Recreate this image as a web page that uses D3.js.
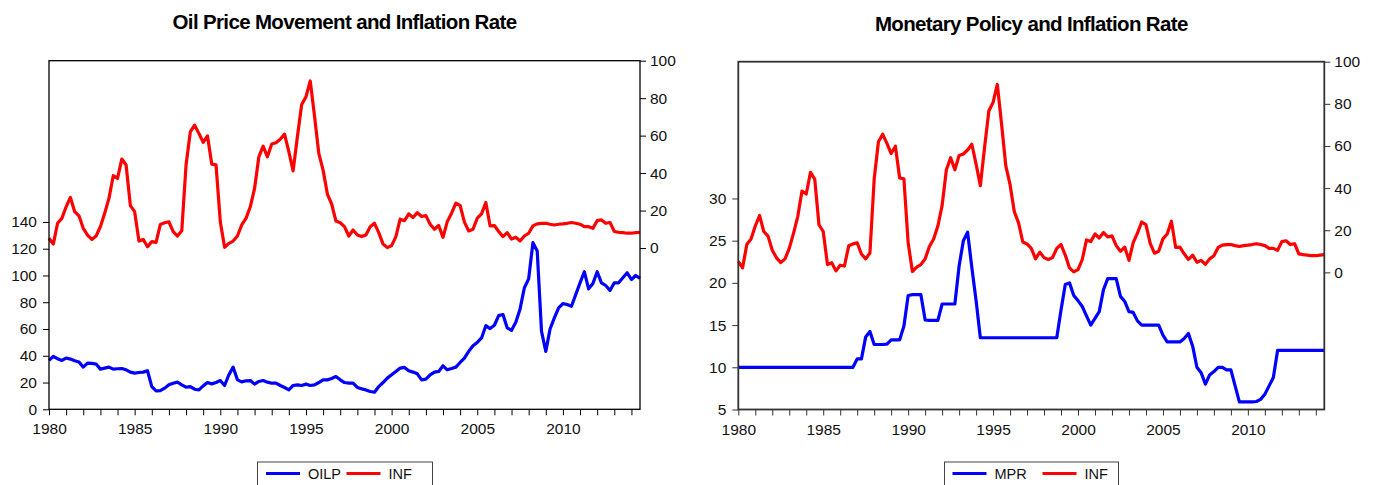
<!DOCTYPE html>
<html lang="en">
<head>
<meta charset="UTF-8">
<title>Oil price, monetary policy and inflation</title>
<script src="https://d3js.org/d3.v7.min.js"></script>
<style>
  body { margin: 0; background: #fff; }
  svg { display: block; font-family: Arial, "Liberation Sans", sans-serif; }
</style>
</head>
<body>
<script>
// quarterly, 1980Q1 .. 2014Q3
const quarters = d3.range(139).map(i => 1980 + i / 4);

const oilp = [
  36.5, 39.5, 37.8, 36.5, 38.3, 37.5, 36.3, 35.3, 31.5, 34.5,
  34.3, 33.8, 30, 30.8, 31.5, 30, 30.3, 30.5, 29.5, 27.8,
  27, 27.5, 27.8, 28.8, 17, 13.8, 14, 15.8, 18.3, 19.5,
  20.3, 18.3, 16.5, 17, 15, 14.5, 17.5, 20, 19, 20,
  21.5, 17.8, 25.8, 31.5, 22, 20.5, 21.3, 21.5, 18.8, 20.8,
  21.5, 20.3, 19.5, 19.5, 17.8, 16.3, 14.5, 17.8, 18.3, 17.8,
  18.8, 17.8, 18.3, 20, 22, 22, 23, 24.5, 22, 20,
  19.5, 19.5, 16.3, 15.3, 14.5, 13.3, 12.8, 17, 20, 23.3,
  25.8, 28.3, 30.8, 31.3, 28.8, 27.8, 26.5, 22, 22.5, 25.8,
  27.8, 28.3, 32.5, 29.5, 30.5, 31.5, 35, 38.3, 43.3, 47.5,
  50, 53.3, 62.5, 60.3, 62.8, 70, 70.8, 60.8, 59, 65,
  75, 90.8, 97.5, 124.5, 118.3, 58.3, 43.3, 60, 68.3, 75.8,
  79, 78.3, 77, 85.8, 94.5, 102.8, 90, 94, 102.8, 94.5,
  92.5, 88.8, 94.5, 94.5, 98.3, 102, 97, 100, 97.8
];

const inf = [
  5.2, 2.1, 13.2, 15.8, 22, 27, 19.4, 17.2, 10.5, 6.9,
  4.6, 6.4, 11.4, 18.5, 26.5, 38.6, 37.2, 47.5, 44.3, 22.6,
  19.4, 3.7, 4.6, 0.7, 3.4, 3, 12.6, 13.5, 14, 8.7,
  6.4, 9.2, 44.3, 62, 65.6, 61.2, 56.4, 59.9, 44.8, 44.4,
  14, 0.4, 2.5, 3.7, 6.4, 12.3, 15.8, 22, 31.8, 48.7,
  54.4, 48.7, 55.5, 56.2, 58.1, 60.8, 51.4, 41.2, 59.4, 76.6,
  80.7, 89.2, 70.4, 50.5, 41.6, 28.8, 23.5, 14.4, 13.5, 11.4,
  6.4, 9.6, 7, 6.1, 7, 11.4, 13.2, 8.2, 2.1, 0.2,
  1.3, 6.1, 15.4, 14.6, 18.2, 16.3, 18.9, 16.8, 17.3, 12.7,
  10, 12, 5.7, 14.1, 18.6, 23.9, 22.7, 13.8, 9.1, 10,
  15.9, 18.2, 24.3, 11.8, 12, 8.8, 6.1, 8.2, 4.8, 5.7,
  3.8, 6.4, 7.9, 11.8, 12.9, 13.2, 13.2, 12.7, 12.3, 12.7,
  12.9, 13.2, 13.6, 13.2, 12.7, 11.4, 11.4, 10.5, 14.6, 15,
  13.2, 13.6, 8.8, 8.4, 8.2, 7.9, 7.9, 8.2, 8.4
];

const mpr = [
  10, 10, 10, 10, 10, 10, 10, 10, 10, 10,
  10, 10, 10, 10, 10, 10, 10, 10, 10, 10,
  10, 10, 10, 10, 10, 10, 10, 10, 11, 11,
  13.6, 14.25, 12.7, 12.7, 12.7, 12.75, 13.25, 13.25, 13.25, 14.9,
  18.5, 18.6, 18.6, 18.6, 15.6, 15.55, 15.55, 15.55, 17.5, 17.5,
  17.5, 17.5, 22, 25, 26, 21.8, 17.9, 13.5, 13.5, 13.5,
  13.5, 13.5, 13.5, 13.5, 13.5, 13.5, 13.5, 13.5, 13.5, 13.5,
  13.5, 13.5, 13.5, 13.5, 13.5, 13.5, 16.8, 19.8, 20, 18.5,
  17.9, 17.2, 16.1, 15, 15.8, 16.6, 19.2, 20.5, 20.5, 20.5,
  18.4, 17.8, 16.6, 16.5, 15.5, 15, 15, 15, 15, 15,
  13.8, 13, 13, 13, 13, 13.4, 14, 12.5, 10, 9.35,
  8, 9.1, 9.5, 10, 10, 9.7, 9.7, 7.8, 5.9, 5.9,
  5.9, 5.9, 5.95, 6.2, 6.8, 7.8, 8.8, 12, 12, 12,
  12, 12, 12, 12, 12, 12, 12, 12, 12
];

const yearTicks = [1980, 1985, 1990, 1995, 2000, 2005, 2010];
const minorYears = d3.range(1980, 2015);
const oilTicks = [0, 20, 40, 60, 80, 100, 120, 140];
const infTicks = [0, 20, 40, 60, 80, 100];
const mprTicks = [5, 10, 15, 20, 25, 30];

const w = 1379, h = 485;
const svg = d3.select("body").append("svg")
  .attr("width", w)
  .attr("height", h);

function panel(o) {
  const g = svg.append("g");

  const x = d3.scaleLinear().domain([1980, 2014.5]).range([o.left, o.right]);
  const yL = d3.scaleLinear().domain(o.leftDomain).range([o.bottom, o.top]);
  const yR = d3.scaleLinear().domain(o.rightDomain).range([o.bottom, o.top]);

  // title
  g.append("text")
    .attr("x", (o.left + o.right) / 2)
    .attr("y", o.titleY)
    .attr("text-anchor", "middle")
    .attr("font-size", 20.5)
    .attr("font-weight", "bold")
    .attr("letter-spacing", -0.65)
    .text(o.title);

  const xAxis = d3.axisBottom(x)
    .tickValues(minorYears)
    .tickFormat(d => yearTicks.includes(d) ? d : "")
    .tickSize(6).tickPadding(8).tickSizeOuter(0);
  const leftAxis = d3.axisLeft(yL)
    .tickValues(o.leftTicks)
    .tickSize(6).tickPadding(6).tickSizeOuter(0);
  const rightAxis = d3.axisRight(yR)
    .tickValues(infTicks)
    .tickSize(6).tickPadding(4).tickSizeOuter(0);

  const axes = [
    g.append("g").attr("transform", "translate(0," + o.bottom + ")").call(xAxis),
    g.append("g").attr("transform", "translate(" + o.left + ",0)").call(leftAxis),
    g.append("g").attr("transform", "translate(" + o.right + ",0)").call(rightAxis)
  ];
  axes.forEach(a => {
    a.select(".domain").remove();
    a.attr("font-family", null).attr("font-size", 15.5).attr("color", o.axisColor);
    a.selectAll("text").attr("fill", "#111");
  });

  // series
  const series = [
    { values: o.blue, scale: yL, color: "#0000ff" },
    { values: inf, scale: yR, color: "#ff0000" }
  ];
  series.forEach(s => {
    const line = d3.line()
      .x((d, i) => x(quarters[i]))
      .y(d => s.scale(d));
    g.append("path")
      .datum(s.values)
      .attr("fill", "none")
      .attr("stroke", s.color)
      .attr("stroke-width", 3.2)
      .attr("stroke-linejoin", "round")
      .attr("d", line);
  });

  // frame
  g.append("rect")
    .attr("x", o.left).attr("y", o.top)
    .attr("width", o.right - o.left).attr("height", o.bottom - o.top)
    .attr("fill", "none")
    .attr("stroke", o.axisColor)
    .attr("stroke-width", o.frameWidth);

  // legend
  const lg = g.append("g").attr("transform", "translate(" + o.legendX + ",462)");
  lg.append("rect")
    .attr("width", o.legendW).attr("height", 30)
    .attr("fill", "#fff").attr("stroke", "#444").attr("stroke-width", 1);
  o.legend.forEach(item => {
    lg.append("line")
      .attr("x1", item.at).attr("x2", item.at + 34)
      .attr("y1", 11.5).attr("y2", 11.5)
      .attr("stroke", item.color).attr("stroke-width", 3);
    lg.append("text")
      .attr("x", item.at + 42).attr("y", 16.5)
      .attr("font-size", 14.5)
      .attr("fill", "#111")
      .text(item.name);
  });
}

panel({
  title: "Oil Price Movement and Inflation Rate",
  titleY: 29,
  left: 49, right: 640, top: 60.7, bottom: 409.3,
  leftDomain: [0, 260.5], rightDomain: [-86.1, 100],
  leftTicks: oilTicks,
  blue: oilp,
  axisColor: "#000", frameWidth: 1.3,
  legendX: 257.5, legendW: 175,
  legend: [
    { name: "OILP", color: "#0000ff", at: 8.5 },
    { name: "INF", color: "#ff0000", at: 89 }
  ]
});

panel({
  title: "Monetary Policy and Inflation Rate",
  titleY: 31,
  left: 738.3, right: 1324.3, top: 61.7, bottom: 409.5,
  leftDomain: [5, 46.2], rightDomain: [-65.1, 100],
  leftTicks: mprTicks,
  blue: mpr,
  axisColor: "#333", frameWidth: 1.8,
  legendX: 944.5, legendW: 174,
  legend: [
    { name: "MPR", color: "#0000ff", at: 8 },
    { name: "INF", color: "#ff0000", at: 98 }
  ]
});
</script>
</body>
</html>
